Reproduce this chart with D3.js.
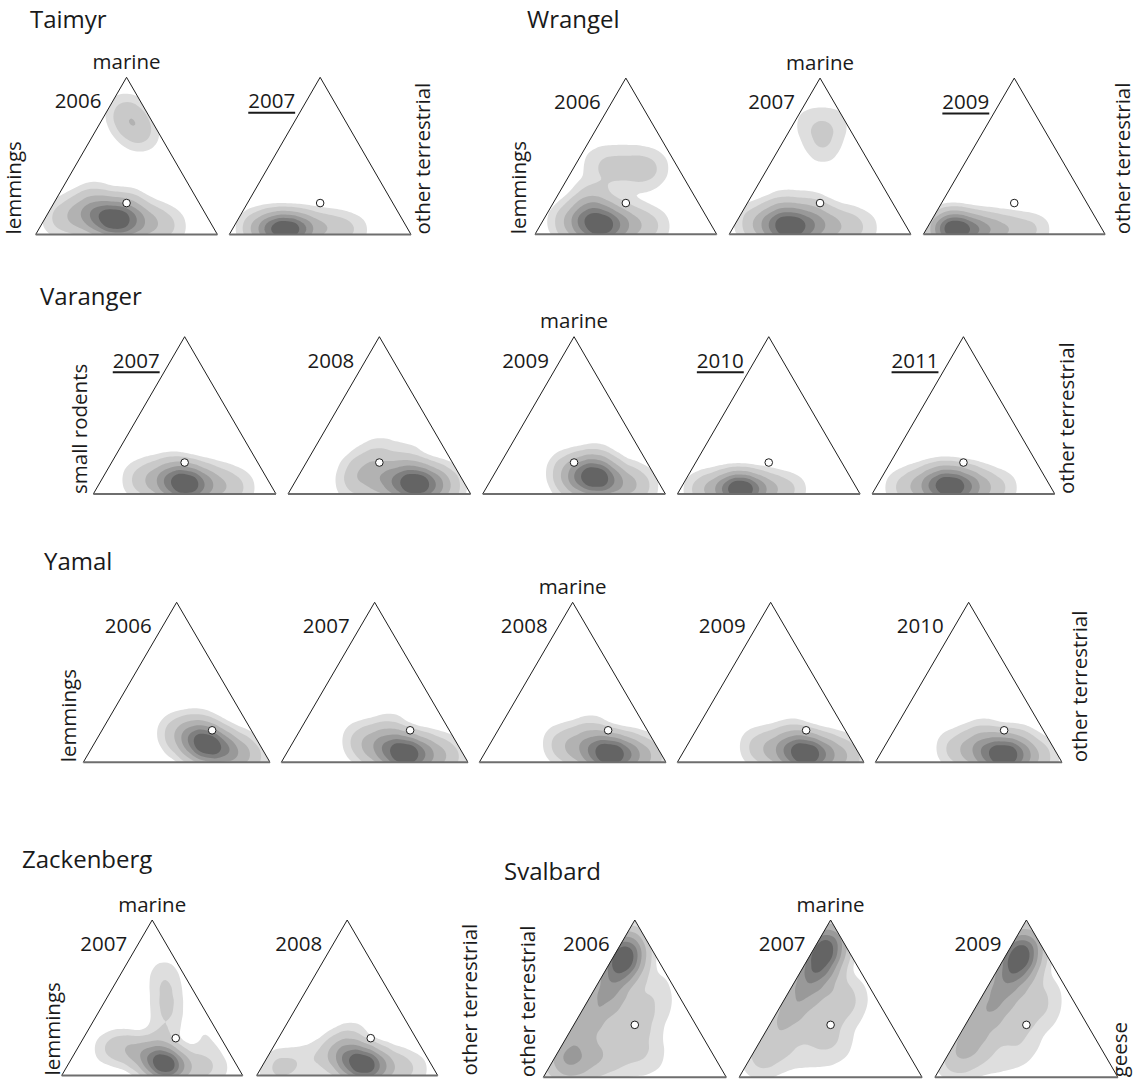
<!DOCTYPE html>
<html>
<head>
<meta charset="utf-8">
<script src="https://cdn.jsdelivr.net/npm/d3@7"></script>
<style>
  body { margin: 0; background: #fff; }
  text { font-family: "Open Sans", "Noto Sans", sans-serif; fill: #1a1a1a; }
</style>
</head>
<body>
<svg id="chart" width="1143" height="1081"></svg>
<script>
// Diet samples per panel: [marine share, right-corner share, weight].
// The left-corner share (lemmings / small rodents / other terrestrial) is the remainder.
const taimyr2006 = [[0.09,0.395,1.0],[0.11,0.285,0.6],[0.08,0.50,0.5],[0.12,0.16,0.3],[0.07,0.615,0.25],[0.10,0.07,0.12],[0.05,0.725,0.1],[0.21,0.215,0.2],[0.19,0.405,0.15],[0.78,0.10,0.15],[0.71,0.175,0.2],[0.64,0.26,0.14]];
const taimyr2007 = [[0.03,0.22,0.8],[0.03,0.30,1.0],[0.03,0.38,0.7],[0.04,0.12,0.35],[0.04,0.48,0.35],[0.04,0.58,0.22],[0.03,0.68,0.12],[0.08,0.22,0.15],[0.07,0.35,0.12]];

const wrangel2006 = [[0.05,0.335,1.0],[0.06,0.24,0.5],[0.05,0.435,0.5],[0.08,0.14,0.25],[0.06,0.53,0.25],[0.05,0.635,0.12],[0.16,0.22,0.3],[0.15,0.345,0.15],[0.46,0.17,0.1],[0.47,0.285,0.1],[0.44,0.40,0.1],[0.38,0.26,0.1],[0.36,0.40,0.09],[0.42,0.45,0.06],[0.45,0.105,0.06],[0.28,0.19,0.08],[0.20,0.20,0.1]];
const wrangel2007 = [[0.04,0.31,1.0],[0.05,0.215,0.5],[0.04,0.41,0.6],[0.07,0.105,0.25],[0.05,0.515,0.35],[0.05,0.625,0.2],[0.04,0.73,0.08],[0.15,0.225,0.25],[0.15,0.375,0.2],[0.71,0.095,0.1],[0.71,0.215,0.1],[0.60,0.21,0.1],[0.54,0.25,0.06]];
const wrangel2009 = [[0.03,0.165,1.0],[0.03,0.08,0.5],[0.03,0.255,0.6],[0.03,0.34,0.4],[0.03,0.44,0.28],[0.03,0.545,0.15],[0.03,0.62,0.08],[0.08,0.12,0.18]];

const varanger2007 = [[0.06,0.48,1.0],[0.07,0.385,0.5],[0.06,0.57,0.45],[0.09,0.275,0.25],[0.05,0.675,0.25],[0.04,0.78,0.12],[0.09,0.195,0.1],[0.14,0.375,0.18]];
const varanger2008 = [[0.06,0.67,1.0],[0.07,0.565,0.5],[0.06,0.77,0.45],[0.09,0.455,0.3],[0.05,0.855,0.15],[0.15,0.325,0.2],[0.24,0.38,0.15],[0.20,0.55,0.15],[0.06,0.33,0.12]];
const varanger2009 = [[0.10,0.57,1.0],[0.12,0.48,0.5],[0.08,0.66,0.5],[0.14,0.39,0.25],[0.06,0.77,0.3],[0.05,0.85,0.12],[0.20,0.52,0.2],[0.05,0.475,0.15]];
const varanger2010 = [[0.03,0.335,1.0],[0.03,0.255,0.6],[0.03,0.415,0.6],[0.03,0.16,0.3],[0.03,0.51,0.3],[0.03,0.615,0.14],[0.03,0.085,0.1],[0.06,0.29,0.15]];
const varanger2011 = [[0.04,0.41,1.0],[0.05,0.315,0.6],[0.04,0.50,0.55],[0.05,0.22,0.3],[0.04,0.595,0.3],[0.04,0.70,0.12],[0.04,0.125,0.12],[0.11,0.335,0.22],[0.10,0.46,0.14]];

const yamal2006 = [[0.11,0.605,1.0],[0.14,0.51,0.4],[0.08,0.71,0.55],[0.05,0.815,0.3],[0.18,0.41,0.2],[0.03,0.905,0.1],[0.22,0.51,0.15]];
const yamal2007 = [[0.05,0.635,1.0],[0.07,0.535,0.45],[0.05,0.725,0.5],[0.04,0.83,0.25],[0.10,0.43,0.25],[0.14,0.35,0.12],[0.18,0.49,0.2],[0.03,0.915,0.08]];
const yamal2008 = [[0.05,0.675,1.0],[0.06,0.58,0.5],[0.05,0.765,0.5],[0.04,0.86,0.25],[0.09,0.455,0.25],[0.12,0.37,0.12],[0.17,0.515,0.2],[0.02,0.93,0.08]];
const yamal2009 = [[0.05,0.665,1.0],[0.06,0.57,0.5],[0.05,0.755,0.5],[0.04,0.86,0.25],[0.08,0.46,0.25],[0.10,0.37,0.12],[0.15,0.545,0.2],[0.02,0.94,0.08]];
const yamal2010 = [[0.04,0.67,1.0],[0.05,0.575,0.5],[0.04,0.76,0.45],[0.03,0.865,0.2],[0.07,0.465,0.25],[0.09,0.365,0.12],[0.15,0.505,0.2],[0.14,0.68,0.12]];

const zackenberg2007 = [[0.07,0.535,1.0],[0.10,0.45,0.5],[0.06,0.61,0.4],[0.15,0.345,0.3],[0.18,0.24,0.2],[0.17,0.165,0.1],[0.05,0.725,0.2],[0.22,0.44,0.2],[0.04,0.84,0.08],[0.36,0.40,0.09],[0.44,0.36,0.09],[0.52,0.32,0.09],[0.60,0.27,0.08],[0.67,0.23,0.06],[0.28,0.64,0.045],[0.16,0.74,0.05]];
const zackenberg2008 = [[0.07,0.555,1.0],[0.09,0.465,0.5],[0.06,0.64,0.45],[0.14,0.37,0.3],[0.05,0.755,0.2],[0.22,0.41,0.2],[0.10,0.25,0.12],[0.06,0.13,0.16],[0.04,0.06,0.08],[0.04,0.86,0.08]];

const svalbard2006 = [[0.76,0.06,1.0],[0.84,0.04,0.5],[0.68,0.07,0.55],[0.58,0.07,0.45],[0.48,0.07,0.38],[0.38,0.07,0.32],[0.28,0.06,0.3],[0.18,0.06,0.3],[0.10,0.05,0.28],[0.07,0.135,0.3],[0.45,0.225,0.15],[0.35,0.325,0.12],[0.25,0.425,0.1],[0.25,0.275,0.15],[0.12,0.29,0.18],[0.12,0.44,0.12],[0.12,0.54,0.06],[0.42,0.36,0.08],[0.55,0.305,0.06],[0.60,0.32,0.05],[0.45,0.415,0.05],[0.12,0.22,0.2]];
const svalbard2007 = [[0.82,0.06,1.0],[0.72,0.07,0.8],[0.90,0.05,0.35],[0.62,0.07,0.5],[0.52,0.07,0.4],[0.42,0.07,0.3],[0.32,0.06,0.25],[0.20,0.06,0.2],[0.10,0.07,0.15],[0.58,0.21,0.15],[0.50,0.31,0.12],[0.42,0.39,0.08],[0.42,0.27,0.12],[0.55,0.365,0.05],[0.30,0.25,0.12],[0.28,0.36,0.1],[0.15,0.225,0.1],[0.15,0.375,0.08],[0.20,0.45,0.06]];
const svalbard2009 = [[0.78,0.08,1.0],[0.70,0.08,0.6],[0.87,0.065,0.35],[0.60,0.08,0.45],[0.50,0.08,0.4],[0.40,0.08,0.35],[0.30,0.07,0.3],[0.20,0.07,0.3],[0.10,0.07,0.2],[0.58,0.21,0.12],[0.48,0.32,0.1],[0.40,0.40,0.07],[0.56,0.35,0.05],[0.40,0.27,0.12],[0.28,0.26,0.12],[0.25,0.375,0.08],[0.12,0.24,0.1],[0.12,0.39,0.06]];

// Years sampled per region, and those underlined
const taimyrYears = ["2006", "2007"];
const wrangelYears = ["2006", "2007", "2009"];
const varangerYears = ["2007", "2008", "2009", "2010", "2011"];
const yamalYears = ["2006", "2007", "2008", "2009", "2010"];
const zackenbergYears = ["2007", "2008"];
const svalbardYears = ["2006", "2007", "2009"];
const underlinedYears = { Taimyr: ["2007"], Wrangel: ["2009"], Varanger: ["2007", "2010", "2011"] };

// Reference diet of each region: [marine share, right-corner share]
const taimyrMean = [0.2, 0.4];
const wrangelMean = [0.2, 0.4];
const varangerMean = [0.2, 0.4];
const yamalMean = [0.2, 0.59];
const zackenbergMean = [0.24, 0.51];
const svalbardMean = [1/3, 1/3];

// Density shading: fraction of each panel's peak density, light to dark
const levelFractions = [0.04, 0.11, 0.25, 0.42, 0.60, 0.78];
const levelColors = ["#dedede", "#c9c9c9", "#b2b2b2", "#999999", "#7f7f7f", "#646464"];

const regions = [
  { name: "Taimyr", leftLabel: "lemmings", rightLabel: "other terrestrial", years: taimyrYears, mean: taimyrMean, samples: [taimyr2006, taimyr2007], bandwidth: [11, 9.5] },
  { name: "Wrangel", leftLabel: "lemmings", rightLabel: "other terrestrial", years: wrangelYears, mean: wrangelMean, samples: [wrangel2006, wrangel2007, wrangel2009], bandwidth: [11, 11, 9.5] },
  { name: "Varanger", leftLabel: "small rodents", rightLabel: "other terrestrial", years: varangerYears, mean: varangerMean, samples: [varanger2007, varanger2008, varanger2009, varanger2010, varanger2011], bandwidth: [11, 11, 11, 9.5, 10.5] },
  { name: "Yamal", leftLabel: "lemmings", rightLabel: "other terrestrial", years: yamalYears, mean: yamalMean, samples: [yamal2006, yamal2007, yamal2008, yamal2009, yamal2010], bandwidth: [11, 11, 11, 11, 11] },
  { name: "Zackenberg", leftLabel: "lemmings", rightLabel: "other terrestrial", years: zackenbergYears, mean: zackenbergMean, samples: [zackenberg2007, zackenberg2008], bandwidth: [9.5, 10.5] },
  { name: "Svalbard", leftLabel: "other terrestrial", rightLabel: "geese", years: svalbardYears, mean: svalbardMean, samples: [svalbard2006, svalbard2007, svalbard2009], bandwidth: [12, 12, 12] }
];

// Page layout of each region's row of triangles
const layout = [
  { x0: 35.7, step: 193.6, base: 234.5, w: 181.7, h: 157.2, marine: 0, leftX: 20.5, rightX: 429.5, titleX: 30, titleY: 28 },
  { x0: 535, step: 194.2, base: 234.3, w: 181.7, h: 156.2, marine: 1, leftX: 526, rightX: 1130, titleX: 527, titleY: 28 },
  { x0: 93.3, step: 194.7, base: 494, w: 182.7, h: 157.3, marine: 2, leftX: 87, rightX: 1074, titleX: 40, titleY: 305 },
  { x0: 83.3, step: 198, base: 762.3, w: 186.7, h: 160, marine: 2, leftX: 76, rightX: 1087, titleX: 44, titleY: 570 },
  { x0: 61.7, step: 195, base: 1075.5, w: 181, h: 155.5, marine: 0, leftX: 60, rightX: 477, titleX: 22, titleY: 868 },
  { x0: 543.3, step: 195.8, base: 1077.3, w: 183, h: 157.3, marine: 1, leftX: 535, rightX: 1127, titleX: 504, titleY: 880 }
];

const svg = d3.select("#chart");
const labelSize = 20.5, titleSize = 24;

regions.forEach((reg, ri) => {
  const L = layout[ri];
  const rg = svg.append("g");

  rg.append("text")
    .attr("x", L.titleX).attr("y", L.titleY)
    .style("font-size", titleSize + "px")
    .text(reg.name);

  // Corner labels, reading bottom to top
  rg.append("text")
    .attr("transform", `translate(${L.leftX},${L.base}) rotate(-90)`)
    .style("font-size", labelSize + "px")
    .text(reg.leftLabel);
  rg.append("text")
    .attr("transform", `translate(${L.rightX},${L.base}) rotate(-90)`)
    .style("font-size", labelSize + "px")
    .text(reg.rightLabel);

  // Ternary -> local pixel coordinates (apex = marine, right corner = second share)
  const xScale = d3.scaleLinear().domain([0, 1]).range([0, L.w]);
  const yScale = d3.scaleLinear().domain([0, 1]).range([L.h, 0]);
  const tx = d => xScale(d[1] + d[0] / 2);
  const ty = d => yScale(d[0]);

  reg.samples.forEach((samples, pi) => {
    const left = L.x0 + pi * L.step, top = L.base - L.h;
    const panel = rg.append("g").attr("transform", `translate(${left},${top})`);
    const clipId = `clip-${ri}-${pi}`;
    const triPath = `M0,${L.h}L${L.w / 2},0L${L.w},${L.h}Z`;
    panel.append("clipPath").attr("id", clipId).append("path").attr("d", triPath);

    const density = d3.contourDensity()
      .x(tx).y(ty)
      .weight(d => d[2])
      .size([L.w, L.h])
      .cellSize(2)
      .bandwidth(reg.bandwidth[pi])
      .thresholds(values => {
        const peak = d3.max(values) / 4; // grid values are scaled by (cellSize)^2
        return levelFractions.map(f => f * peak);
      })(samples);

    panel.append("g")
      .attr("clip-path", `url(#${clipId})`)
      .selectAll("path")
      .data(density)
      .join("path")
      .attr("d", d3.geoPath())
      .attr("fill", (d, i) => levelColors[i]);

    // Triangle frame: thin sides, heavier grey base
    panel.append("path")
      .attr("d", `M0,${L.h}L${L.w / 2},0L${L.w},${L.h}`)
      .attr("fill", "none").attr("stroke", "#1e1e1e").attr("stroke-width", 1);
    panel.append("line")
      .attr("x1", 0).attr("x2", L.w).attr("y1", L.h).attr("y2", L.h)
      .attr("stroke", "#6e6e6e").attr("stroke-width", 2);

    // Regional reference diet
    panel.append("circle")
      .attr("cx", tx(reg.mean)).attr("cy", ty(reg.mean)).attr("r", 3.8)
      .attr("fill", "#fff").attr("stroke", "#1e1e1e").attr("stroke-width", 1);

    // Year label
    const year = reg.years[pi];
    const yt = panel.append("text")
      .attr("x", L.w / 2 - 25).attr("y", 31)
      .attr("text-anchor", "end")
      .style("font-size", labelSize + "px")
      .text(year);
    if ((underlinedYears[reg.name] || []).includes(year)) {
      const len = yt.node().getComputedTextLength();
      panel.append("line")
        .attr("x1", L.w / 2 - 25 - len).attr("x2", L.w / 2 - 25)
        .attr("y1", 35.5).attr("y2", 35.5)
        .attr("stroke", "#1a1a1a").attr("stroke-width", 2);
    }

    if (pi === L.marine) {
      panel.append("text")
        .attr("x", L.w / 2).attr("y", -8.5)
        .attr("text-anchor", "middle")
        .style("font-size", labelSize + "px")
        .text("marine");
    }
  });
});
</script>
</body>
</html>
